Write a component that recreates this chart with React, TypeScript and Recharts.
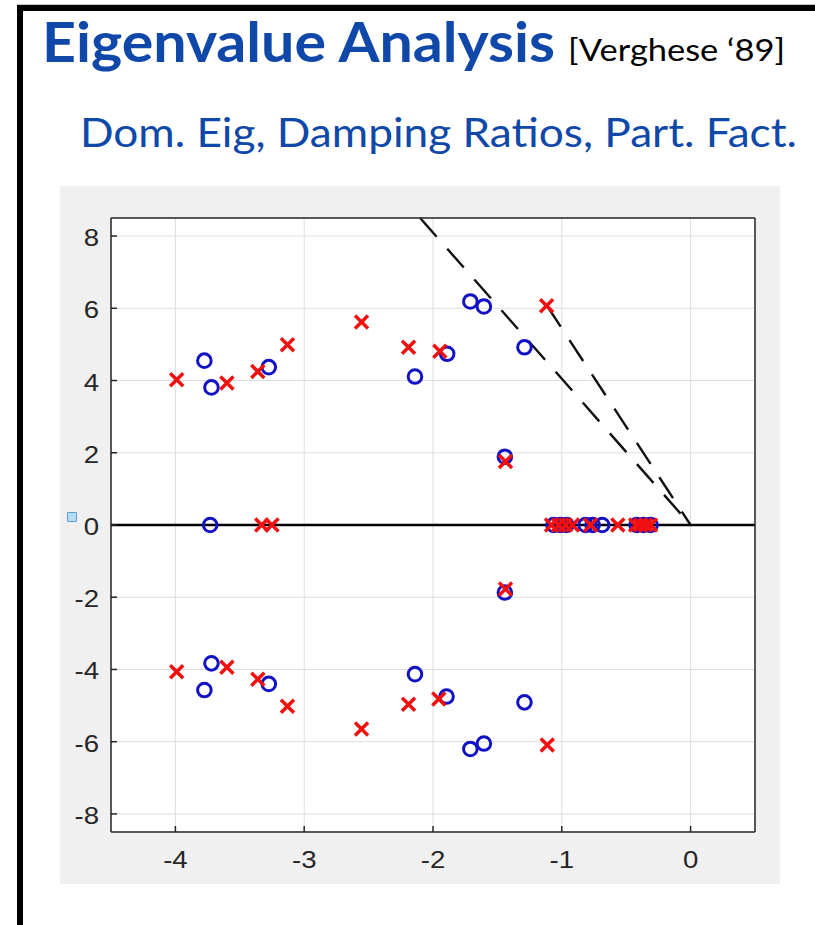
import React from "react";
import {
  ScatterChart,
  Scatter,
  XAxis,
  YAxis,
  CartesianGrid,
  ReferenceLine,
} from "recharts";

// eigenvalues: blue circles and red crosses (re, im)
const circles = [
  { re: -3.775, im: 4.55 },
  { re: -3.72, im: 3.81 },
  { re: -3.275, im: 4.37 },
  { re: -2.14, im: 4.11 },
  { re: -1.89, im: 4.74 },
  { re: -1.71, im: 6.19 },
  { re: -1.605, im: 6.05 },
  { re: -1.29, im: 4.92 },
  { re: -1.442, im: 1.89 },
  { re: -3.73, im: 0 },
  { re: -1.064, im: 0 },
  { re: -1.01, im: 0 },
  { re: -0.963, im: 0 },
  { re: -0.816, im: 0 },
  { re: -0.761, im: 0 },
  { re: -0.686, im: 0 },
  { re: -0.419, im: 0 },
  { re: -0.365, im: 0 },
  { re: -0.311, im: 0 },
  { re: -3.72, im: -3.83 },
  { re: -3.775, im: -4.57 },
  { re: -3.275, im: -4.4 },
  { re: -2.14, im: -4.13 },
  { re: -1.895, im: -4.75 },
  { re: -1.71, im: -6.2 },
  { re: -1.605, im: -6.05 },
  { re: -1.29, im: -4.91 },
  { re: -1.442, im: -1.87 },
];

const crosses = [
  { re: -3.99, im: 4.02 },
  { re: -3.6, im: 3.93 },
  { re: -3.36, im: 4.25 },
  { re: -3.13, im: 4.99 },
  { re: -2.555, im: 5.62 },
  { re: -2.19, im: 4.92 },
  { re: -1.947, im: 4.81 },
  { re: -1.118, im: 6.07 },
  { re: -1.437, im: 1.76 },
  { re: -3.33, im: 0 },
  { re: -3.25, im: 0 },
  { re: -1.08, im: 0 },
  { re: -1.025, im: 0 },
  { re: -0.971, im: 0 },
  { re: -0.917, im: 0 },
  { re: -0.777, im: 0 },
  { re: -0.565, im: 0 },
  { re: -0.427, im: 0 },
  { re: -0.388, im: 0 },
  { re: -0.35, im: 0 },
  { re: -0.311, im: 0 },
  { re: -3.99, im: -4.06 },
  { re: -3.6, im: -3.94 },
  { re: -3.36, im: -4.27 },
  { re: -3.13, im: -5.02 },
  { re: -2.555, im: -5.65 },
  { re: -2.19, im: -4.96 },
  { re: -1.955, im: -4.82 },
  { re: -1.113, im: -6.09 },
  { re: -1.437, im: -1.77 },
];

// damping ratio lines, drawn from the far end towards the origin
const dampingLineA = [
  { x: -2.1, y: 8.5 },
  { x: 0, y: 0 },
];
const dampingLineB = [
  { x: -1.115, y: 6.07 },
  { x: 0, y: 0 },
];

const xTicks = [-4, -3, -2, -1, 0];
const yTicks = [-8, -6, -4, -2, 0, 2, 4, 6, 8];

const BLUE = "#1212c4";
const RED = "#f01010";
const AXIS = "#262626";
const TITLE_BLUE = "#0f48a8";

const tickFont = "'Liberation Sans', Arial, sans-serif";
const SX = 1.2;

function XTick({ x, y, payload }: any) {
  return (
    <text
      x={0}
      y={0}
      transform={`translate(${x},${y}) scale(${SX},1)`}
      textAnchor="middle"
      fontSize={23}
      fontFamily={tickFont}
      fill={AXIS}
    >
      {payload.value}
    </text>
  );
}

function YTick({ x, y, payload }: any) {
  return (
    <text
      x={0}
      y={0}
      transform={`translate(${x},${y + 10}) scale(${SX},1)`}
      textAnchor="end"
      fontSize={23}
      fontFamily={tickFont}
      fill={AXIS}
    >
      {payload.value}
    </text>
  );
}

function CircleMark({ cx, cy }: any) {
  return <circle cx={cx} cy={cy} r={6.8} fill="none" stroke={BLUE} strokeWidth={3} />;
}

function CrossMark({ cx, cy }: any) {
  const s = 6.5;
  return (
    <path
      d={`M${cx - s},${cy - s}L${cx + s},${cy + s}M${cx - s},${cy + s}L${cx + s},${cy - s}`}
      stroke={RED}
      strokeWidth={3.5}
      fill="none"
    />
  );
}

export default function App() {
  return (
    <div
      style={{
        position: "absolute",
        left: 0,
        top: 0,
        width: 815,
        height: 925,
        background: "#fff",
        overflow: "hidden",
      }}
    >
      <svg width={815} height={925} style={{ position: "absolute", left: 0, top: 0 }}>
        <rect x={17} y={4} width={800} height={1} fill="#c8c8c8" />
        <rect x={17} y={5} width={800} height={6} fill="#000" />
        <rect x={17} y={5} width={6} height={925} fill="#000" />
        <text
          x={42}
          y={62}
          fontFamily="Lato, 'Open Sans', sans-serif"
          fontWeight={700}
          fontSize={55}
          fill={TITLE_BLUE}
          textLength={513}
          lengthAdjust="spacingAndGlyphs"
        >
          Eigenvalue Analysis
        </text>
        <text
          x={568}
          y={61}
          fontFamily="Lato, 'Open Sans', sans-serif"
          fontSize={30}
          fill="#000"
          textLength={217}
          lengthAdjust="spacingAndGlyphs"
        >
          [Verghese ‘89]
        </text>
        <text
          x={80}
          y={147}
          fontFamily="Lato, 'Open Sans', sans-serif"
          fontSize={41}
          fill={TITLE_BLUE}
          textLength={717}
          lengthAdjust="spacingAndGlyphs"
        >
          Dom. Eig, Damping Ratios, Part. Fact.
        </text>
      </svg>

      <div style={{ position: "absolute", left: 60, top: 186 }}>
        <ScatterChart
          width={720}
          height={698}
          margin={{ top: 31, right: 24, bottom: 0, left: 0 }}
          style={{ background: "#f0f0f0" }}
        >
          <CartesianGrid stroke="#dedede" strokeWidth={1} fill="#fff" />
          <XAxis
            type="number"
            dataKey="re"
            domain={[-4.5, 0.5]}
            ticks={xTicks}
            interval={0}
            allowDataOverflow
            height={52}
            axisLine={{ stroke: AXIS, strokeWidth: 1.5 }}
            tickLine={{ stroke: AXIS, strokeWidth: 1.5 }}
            tickSize={-6}
            tickMargin={42}
            tick={XTick}
          />
          <XAxis
            xAxisId="top"
            orientation="top"
            type="number"
            domain={[-4.5, 0.5]}
            ticks={xTicks}
            interval={0}
            allowDataOverflow
            height={1}
            axisLine={{ stroke: AXIS, strokeWidth: 1.5 }}
            tickLine={{ stroke: AXIS, strokeWidth: 1.5 }}
            tickSize={-6}
            tick={false}
          />
          <YAxis
            type="number"
            dataKey="im"
            domain={[-8.5, 8.5]}
            ticks={yTicks}
            interval={0}
            allowDataOverflow
            width={51}
            axisLine={{ stroke: AXIS, strokeWidth: 1.5 }}
            tickLine={{ stroke: AXIS, strokeWidth: 1.5 }}
            tickSize={-6}
            tickMargin={18}
            tick={YTick}
          />
          <YAxis
            yAxisId="right"
            orientation="right"
            type="number"
            domain={[-8.5, 8.5]}
            ticks={yTicks}
            interval={0}
            allowDataOverflow
            width={1}
            axisLine={{ stroke: AXIS, strokeWidth: 1.5 }}
            tickLine={{ stroke: AXIS, strokeWidth: 1.5 }}
            tickSize={-6}
            tick={false}
          />
          <ReferenceLine y={0} stroke="#000" strokeWidth={2.5} />
          <ReferenceLine
            segment={dampingLineA}
            stroke="#111"
            strokeWidth={2.4}
            strokeDasharray="25 16"
          />
          <ReferenceLine
            segment={dampingLineB}
            stroke="#111"
            strokeWidth={2.4}
            strokeDasharray="25 16"
          />
          <Scatter data={circles} shape={CircleMark} isAnimationActive={false} />
          <Scatter data={crosses} shape={CrossMark} isAnimationActive={false} />
        </ScatterChart>
      </div>

      <div
        style={{
          position: "absolute",
          left: 67,
          top: 512,
          width: 8,
          height: 8,
          background: "#b6dcf4",
          border: "1px solid #5e9fd2",
          borderRadius: 1,
        }}
      />
    </div>
  );
}
